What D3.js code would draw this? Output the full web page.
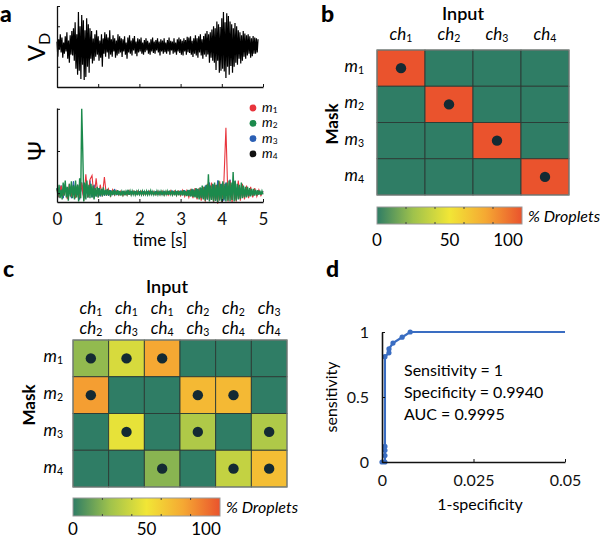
<!DOCTYPE html>
<html><head><meta charset="utf-8">
<script src="https://cdn.jsdelivr.net/npm/d3@7"></script>
<style>
body{margin:0;background:#fff}
svg{display:block;font-family:Lato,"Open Sans",sans-serif}
</style>
</head><body>
<svg id="fig" width="600" height="538"></svg>
<script>
// ---------------- DATA ----------------
const timeTicks = [0, 1, 2, 3, 4, 5];
const vdStep = 0.02;
const vdValues = [
 12,-25,18,-8,30,-15,22,-28,10,-18,
 25,-12,35,-30,15,-40,28,-20,38,-22,
 45,-35,60,-55,30,-70,85,-60,50,-80,
 78,-45,65,-83,40,-75,70,-50,55,-65,
 45,-30,38,-42,20,-35,30,-25,40,-20,
 25,-35,15,-28,30,-50,20,-18,35,-25,
 30,-15,22,-30,40,-20,18,-25,28,-12,
 20,-28,15,-22,30,-18,25,-15,20,-26,
 18,-12,25,-20,10,-30,22,-15,28,-18,
 15,-22,20,-10,26,-18,12,-24,20,-15,
 18,-12,22,-18,10,-20,16,-14,20,-10,
 14,-18,10,-20,18,-12,22,-16,12,-18,
 16,-10,20,-15,12,-22,18,-12,15,-18,
 20,-14,10,-18,16,-12,22,-20,14,-10,
 12,-18,20,-15,10,-20,18,-12,22,-16,
 18,-20,14,-22,20,-12,16,-20,24,-14,
 22,-16,25,-20,14,-26,20,-18,28,-22,
 20,-28,25,-15,30,-22,18,-30,26,-20,
 32,-25,38,-20,30,-40,35,-28,42,-35,
 50,-40,45,-58,62,-35,55,-65,48,-60,
 70,-55,85,-62,60,-78,82,-50,75,-70,
 62,-48,55,-65,45,-50,58,-40,50,-45,
 40,-30,35,-42,28,-35,38,-25,32,-30,
 28,-22,30,-18,25,-28,20,-24,26,-18,
 22,-18,20,-15,18
];
const psiM2Step = 0.025;
const psiM2 = [
 0.12,-0.08,0.2,-0.12,0.08,-0.15,0.25,-0.06,
 0.3,-0.1,0.15,-0.18,0.22,-0.08,0.28,-0.12,
 0.18,-0.15,0.3,-0.1,0.2,-0.2,0.35,-0.12,
 2.0,1.0,-0.2,0.25,-0.15,0.3,-0.1,0.2,
 -0.12,0.22,-0.1,0.18,-0.15,0.12,-0.08,0.15,
 -0.1,0.12,-0.06,0.1,-0.08,0.14,-0.05,0.08,
 -0.06,0.1,-0.05,0.07,-0.08,0.06,-0.04,0.08,
 -0.05,0.06,-0.04,0.07,-0.05,0.05,-0.06,0.04,
 -0.04,0.06,-0.05,0.04,-0.03,0.08,-0.04,0.05,
 -0.04,0.05,-0.03,0.06,-0.04,0.04,-0.05,0.05,
 -0.03,0.04,-0.04,0.05,-0.03,0.04,-0.03,0.05,
 -0.04,0.04,-0.03,0.06,-0.03,0.04,-0.04,0.03,
 -0.03,0.05,-0.04,0.04,-0.03,0.05,-0.03,0.04,
 -0.04,0.04,-0.03,0.05,-0.04,0.06,-0.03,0.04,
 -0.04,0.05,-0.05,0.04,-0.04,0.06,-0.05,0.05,
 -0.05,0.06,-0.05,0.07,-0.06,0.05,-0.07,0.08,
 -0.07,0.08,-0.08,0.1,-0.09,0.08,-0.1,0.12,
 -0.12,0.1,-0.15,0.14,-0.12,0.18,-0.15,0.15,
 -0.18,0.2,-0.15,0.45,-0.2,0.18,-0.16,0.22,
 -0.2,0.25,-0.18,0.2,-0.22,0.3,-0.18,0.22,
 -0.2,0.28,-0.15,0.22,-0.2,0.25,-0.18,0.3,
 -0.2,0.25,-0.16,0.5,-0.2,0.3,-0.18,0.22,
 -0.15,0.2,-0.14,0.25,-0.12,0.18,-0.1,0.15,
 -0.1,0.15,-0.08,0.12,-0.08,0.1,-0.06,0.1,
 -0.06,0.08,-0.05,0.07,-0.04,0.06,-0.04,0.05,
 -0.03
];
const psiStep = 0.05;
const psiM1 = [
 0.08,-0.1,0.18,-0.06,0.12,-0.14,0.22,-0.08,0.15,-0.12,
 0.2,-0.1,0.25,-0.18,0.45,-0.1,0.32,0.42,-0.12,0.35,
 -0.1,0.2,-0.08,0.38,-0.06,0.1,-0.07,0.08,-0.05,0.06,
 -0.05,0.05,-0.06,0.04,-0.05,0.06,-0.04,0.05,-0.04,0.05,
 -0.04,0.04,-0.05,0.03,-0.04,0.05,-0.03,0.04,-0.04,0.05,
 -0.04,0.05,-0.05,0.04,-0.05,0.06,-0.05,0.05,-0.06,0.05,
 -0.06,0.07,-0.08,0.06,-0.1,0.1,-0.12,0.12,-0.15,0.12,
 -0.18,0.15,-0.2,0.22,-0.18,0.25,-0.22,0.2,-0.25,0.28,
 -0.22,0.25,1.55,-0.2,0.3,-0.22,0.25,-0.2,0.3,-0.18,
 0.22,-0.15,0.18,-0.12,0.15,-0.1,0.12,-0.08,0.08,-0.06,
 0.04
];
const psiM3 = [
 0.12,-0.1,0.18,-0.12,0.22,-0.1,0.15,-0.12,0.28,-0.1,
 0.2,-0.15,0.25,-0.12,0.22,-0.1,0.3,-0.1,0.2,-0.08,
 0.12,-0.08,0.1,-0.06,0.08,-0.06,0.07,-0.05,0.1,-0.05,
 0.05,-0.04,0.05,-0.04,0.06,-0.04,0.05,-0.03,0.04,-0.04,
 0.04,-0.03,0.04,-0.03,0.05,-0.03,0.04,-0.03,0.05,-0.03,
 0.04,-0.04,0.05,-0.03,0.04,-0.04,0.06,-0.04,0.05,-0.04,
 0.06,-0.05,0.07,-0.06,0.07,-0.07,0.09,-0.08,0.1,-0.1,
 0.12,-0.12,0.18,-0.15,0.25,-0.15,0.2,-0.18,0.3,-0.15,
 0.22,-0.18,0.25,-0.15,0.32,-0.15,0.28,-0.15,0.22,-0.12,
 0.18,-0.1,0.12,-0.08,0.1,-0.08,0.08,-0.06,0.06,-0.05,
 0.04
];
const psiM4 = [
 0.1,-0.08,0.15,-0.1,0.18,-0.08,0.12,-0.1,0.2,-0.08,
 0.15,-0.12,0.2,-0.1,0.18,-0.08,0.2,-0.08,0.15,-0.06,
 0.1,-0.06,0.08,-0.05,0.07,-0.05,0.06,-0.04,0.06,-0.04,
 0.04,-0.03,0.04,-0.03,0.05,-0.03,0.04,-0.03,0.04,-0.03,
 0.04,-0.03,0.04,-0.03,0.04,-0.03,0.04,-0.03,0.04,-0.03,
 0.04,-0.03,0.04,-0.03,0.04,-0.03,0.04,-0.03,0.04,-0.03,
 0.05,-0.04,0.06,-0.05,0.06,-0.06,0.08,-0.07,0.09,-0.08,
 0.1,-0.1,0.15,-0.12,0.2,-0.12,0.18,-0.15,0.22,-0.12,
 0.2,-0.15,0.22,-0.12,0.25,-0.12,0.22,-0.12,0.18,-0.1,
 0.15,-0.08,0.1,-0.07,0.08,-0.06,0.06,-0.05,0.05,-0.04,
 0.03
];
const maskNames = ["1", "2", "3", "4"];
const maskColors = ["#e8343c", "#1c8a4c", "#2b5fb4", "#111111"];

const bCols = ["1", "2", "3", "4"];
const bValues = [
 [100, 0, 0, 0],
 [0, 100, 0, 0],
 [0, 0, 100, 0],
 [0, 0, 0, 100]
];
const cColsTop = ["1", "1", "1", "2", "2", "3"];
const cColsBottom = ["2", "3", "4", "3", "4", "4"];
const cValues = [
 [22, 42, 75, 0, 0, 0],
 [78, 0, 0, 68, 68, 0],
 [0, 47, 0, 30, 0, 30],
 [0, 0, 20, 0, 36, 66]
];
const colorStops = [0, 25, 50, 75, 100];
const colorRange = ["#2f7d65", "#9fc24c", "#f1e636", "#f5a833", "#ea532d"];
const cbarTicks = [0, 50, 100];
const cbarMinor = [0, 20, 40, 60, 80, 100];

const rocFpr = [0, 0.0008, 0.0008, 0.0008, 0.0008, 0.0008, 0.0019, 0.0019, 0.003, 0.0055, 0.0077, 0.05];
const rocTpr = [0, 0, 0.05, 0.09, 0.12, 0.81, 0.84, 0.87, 0.915, 0.96, 1, 1];
const rocXTicks = [0, 0.025, 0.05];
const rocYTicks = [0, 0.5, 1];
const rocText = ["Sensitivity = 1", "Specificity = 0.9940", "AUC = 0.9995"];

// ---------------- DRAW ----------------
const svg = d3.select("#fig");
const FONT = 'Lato,"Open Sans",sans-serif';
const color = d3.scaleLinear().domain(colorStops).range(colorRange);

function panelLetter(x, y, t) {
  svg.append("text").attr("x", x).attr("y", y).attr("font-size", 23)
    .attr("font-weight", "900").text(t);
}
function styleAxis(g, fs) {
  g.selectAll("path.domain").attr("stroke", "#111").attr("stroke-width", 1.3);
  g.selectAll(".tick line").attr("stroke", "#111").attr("stroke-width", 1);
  g.selectAll(".tick text").attr("font-size", fs).attr("font-family", FONT).attr("fill", "#111");
}
function subLabel(sel, base, sub, fs, italic, shift) {
  sel.append("tspan").attr("font-style", italic ? "italic" : "normal").text(base);
  sel.append("tspan").attr("font-size", fs * 0.62).attr("dy", shift === undefined ? fs * 0.12 : shift)
    .attr("font-style", "normal").text(sub);
}

// ---- Panel a ----
panelLetter(0, 22, "a");
const xA = d3.scaleLinear().domain([0, 5]).range([57, 263]);
const yVD = d3.scaleLinear().domain([-100, 100]).range([87, 6]);
const yPsi = d3.scaleLinear().domain([-0.21, 2.02]).range([202, 108]);

svg.append("path").datum(vdValues)
  .attr("d", d3.line().x((d, i) => xA(i * vdStep)).y(d => yVD(d)))
  .attr("fill", "none").attr("stroke", "#000").attr("stroke-width", 1.2);
const axVDx = svg.append("g").attr("transform", "translate(0,87)")
  .call(d3.axisBottom(xA).tickValues(timeTicks).tickSizeInner(-3).tickSizeOuter(0).tickFormat(""));
styleAxis(axVDx, 14);
const axVDy = svg.append("g").attr("transform", "translate(57,0)")
  .call(d3.axisLeft(yVD).tickValues([-100, -50, 0, 50, 100]).tickSizeInner(-3).tickSizeOuter(0).tickFormat(""));
styleAxis(axVDy, 14);
const vdLab = svg.append("text").attr("transform", "translate(45,47) rotate(-90)")
  .attr("text-anchor", "middle").attr("font-size", 24);
vdLab.append("tspan").text("V");
vdLab.append("tspan").attr("font-size", 16).attr("dy", 5).text("D");

const psiSeries = [[psiM4, psiStep, maskColors[3], 1], [psiM3, psiStep, maskColors[2], 1],
                   [psiM1, psiStep, maskColors[0], 1.1], [psiM2, psiM2Step, maskColors[1], 1.4]];
psiSeries.forEach(([s, step, col, w]) => {
  svg.append("path").datum(s)
    .attr("d", d3.line().x((d, i) => xA(i * step)).y(d => yPsi(d)))
    .attr("fill", "none").attr("stroke", col).attr("stroke-width", w);
});
const axPx = svg.append("g").attr("transform", "translate(0,202)")
  .call(d3.axisBottom(xA).tickValues(timeTicks).tickSizeInner(-3).tickSizeOuter(0).tickPadding(11).tickFormat(d3.format("d")));
styleAxis(axPx, 17);
const axPy = svg.append("g").attr("transform", "translate(57,0)")
  .call(d3.axisLeft(yPsi).tickValues([0, 1, 2]).tickSizeInner(-3).tickSizeOuter(0).tickFormat(""));
styleAxis(axPy, 14);
svg.append("text").attr("transform", "translate(45,151) rotate(-90)")
  .attr("text-anchor", "middle").attr("font-size", 24).text("Ψ");
svg.append("text").attr("x", 160).attr("y", 246).attr("text-anchor", "middle")
  .attr("font-size", 17).text("time [s]");
maskNames.forEach((m, i) => {
  const y = 108 + i * 15.3;
  svg.append("circle").attr("cx", 253).attr("cy", y).attr("r", 3.4).attr("fill", maskColors[i]);
  const t = svg.append("text").attr("x", 262).attr("y", y + 4).attr("font-size", 13.5);
  subLabel(t, "m", m, 13.5, true, 1);
});

// ---- heatmap helper ----
function heatmap(opts) {
  const { x0, x1, y0, y1, values } = opts;
  const nR = values.length, nC = values[0].length;
  const xs = d3.scaleBand().domain(d3.range(nC)).range([x0, x1]);
  const ys = d3.scaleBand().domain(d3.range(nR)).range([y0, y1]);
  const g = svg.append("g");
  values.forEach((row, r) => row.forEach((v, c) => {
    g.append("rect").attr("x", xs(c)).attr("y", ys(r)).attr("width", xs.bandwidth()).attr("height", ys.bandwidth())
      .attr("fill", color(v)).attr("stroke", "#2c3b35").attr("stroke-width", 0.9);
    if (v > 0) g.append("circle").attr("cx", xs(c) + xs.bandwidth() / 2).attr("cy", ys(r) + ys.bandwidth() / 2)
      .attr("r", 5.2).attr("fill", "#142a33");
  }));
  g.append("rect").attr("x", x0).attr("y", y0).attr("width", x1 - x0).attr("height", y1 - y0)
    .attr("fill", "none").attr("stroke", "#8a8f8c").attr("stroke-width", 1);
  maskNames.forEach((m, r) => {
    const t = svg.append("text").attr("x", opts.rowLabX).attr("y", ys(r) + ys.bandwidth() / 2 + 4)
      .attr("text-anchor", "end").attr("font-size", 17);
    subLabel(t, "m", m, 17, true);
  });
  return { xs, ys };
}
function colorbar(x0, x1, y0, y1, labY, id) {
  const grad = svg.append("defs").append("linearGradient").attr("id", id);
  colorStops.forEach(s => grad.append("stop").attr("offset", s + "%").attr("stop-color", color(s)));
  svg.append("rect").attr("x", x0).attr("y", y0).attr("width", x1 - x0).attr("height", y1 - y0)
    .attr("fill", `url(#${id})`).attr("stroke", "#9a9a9a").attr("stroke-width", 1);
  const cs = d3.scaleLinear().domain([0, 100]).range([x0, x1]);
  cbarMinor.slice(1, -1).forEach(v => {
    svg.append("line").attr("x1", cs(v)).attr("x2", cs(v)).attr("y1", y0).attr("y2", y0 + 2).attr("stroke", "#444");
    svg.append("line").attr("x1", cs(v)).attr("x2", cs(v)).attr("y1", y1 - 2).attr("y2", y1).attr("stroke", "#444");
  });
  cbarTicks.forEach((v, i) => {
    svg.append("text").attr("x", i === cbarTicks.length - 1 ? cs(v) - 14 : cs(v)).attr("y", labY)
      .attr("text-anchor", "middle").attr("font-size", 17).text(v);
  });
  svg.append("text").attr("x", x1 + 6).attr("y", (y0 + y1) / 2 + 6).attr("font-size", 16)
    .attr("font-style", "italic").text("% Droplets");
}

// ---- Panel b ----
panelLetter(321, 22, "b");
const hb = heatmap({ x0: 377, x1: 569, y0: 50, y1: 195, values: bValues, rowLabX: 364 });
svg.append("text").attr("x", 463).attr("y", 20).attr("text-anchor", "middle").attr("font-size", 18)
  .attr("font-weight", "600").text("Input");
bCols.forEach((c, i) => {
  const t = svg.append("text").attr("x", hb.xs(i) + hb.xs.bandwidth() / 2).attr("y", 40)
    .attr("text-anchor", "middle").attr("font-size", 17);
  subLabel(t, "ch", c, 17, true);
});
svg.append("text").attr("transform", "translate(338,124) rotate(-90)").attr("text-anchor", "middle")
  .attr("font-size", 17).attr("font-weight", "bold").text("Mask");
colorbar(377, 522, 207, 224, 246, "gb");

// ---- Panel c ----
panelLetter(3, 277, "c");
const hc = heatmap({ x0: 73, x1: 287, y0: 340, y1: 487, values: cValues, rowLabX: 63 });
svg.append("text").attr("x", 167).attr("y", 293).attr("text-anchor", "middle").attr("font-size", 18)
  .attr("font-weight", "600").text("Input");
cColsTop.forEach((c, i) => {
  const cx = hc.xs(i) + hc.xs.bandwidth() / 2;
  const t1 = svg.append("text").attr("x", cx).attr("y", 314).attr("text-anchor", "middle").attr("font-size", 17);
  subLabel(t1, "ch", c, 17, true);
  const t2 = svg.append("text").attr("x", cx).attr("y", 334).attr("text-anchor", "middle").attr("font-size", 17);
  subLabel(t2, "ch", cColsBottom[i], 17, true);
});
svg.append("text").attr("transform", "translate(35,405) rotate(-90)").attr("text-anchor", "middle")
  .attr("font-size", 17).attr("font-weight", "bold").text("Mask");
colorbar(73, 220, 498, 516, 535, "gc");

// ---- Panel d ----
panelLetter(326, 277, "d");
const xD = d3.scaleLinear().domain([0, 0.05]).range([382, 565]);
const yD = d3.scaleLinear().domain([0, 1]).range([462, 332]);
const rocPts = rocFpr.map((f, i) => [f, rocTpr[i]]);
svg.append("path").datum(rocPts)
  .attr("d", d3.line().x(d => xD(d[0])).y(d => yD(d[1])))
  .attr("fill", "none").attr("stroke", "#3a6dc2").attr("stroke-width", 2.2);
svg.selectAll("circle.roc").data(rocPts.slice(0, -1)).enter().append("circle").attr("class", "roc")
  .attr("cx", d => xD(d[0])).attr("cy", d => yD(d[1])).attr("r", 2.6).attr("fill", "#3a6dc2");
const axDx = svg.append("g").attr("transform", "translate(0,462)")
  .call(d3.axisBottom(xD).tickValues(rocXTicks).tickSizeInner(-3).tickSizeOuter(0).tickPadding(13)
    .tickFormat(d => d === 0 ? "0" : String(d)));
styleAxis(axDx, 16);
axDx.select("path.domain").attr("stroke-width", 1.6);
const axDy = svg.append("g").attr("transform", "translate(382,0)")
  .call(d3.axisLeft(yD).tickValues(rocYTicks).tickSizeInner(-3).tickSizeOuter(0).tickPadding(13)
    .tickFormat(d => String(d)));
styleAxis(axDy, 16);
axDy.select("path.domain").attr("stroke-width", 1.6);
svg.append("text").attr("transform", "translate(337,397) rotate(-90)").attr("text-anchor", "middle")
  .attr("font-size", 16).text("sensitivity");
svg.append("text").attr("x", 480).attr("y", 510).attr("text-anchor", "middle").attr("font-size", 16)
  .text("1-specificity");
rocText.forEach((s, i) => {
  svg.append("text").attr("x", 404).attr("y", 376 + i * 22).attr("font-size", 16).text(s);
});
</script>
</body></html>
